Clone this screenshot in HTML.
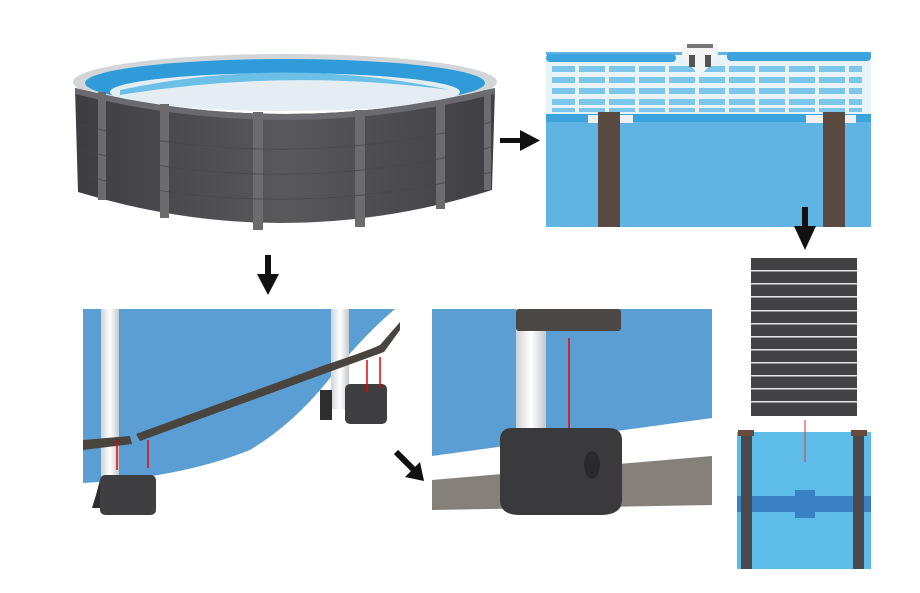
<!DOCTYPE html>
<html><head><meta charset="utf-8"><style>html,body{margin:0;padding:0;background:#fff}svg{display:block}</style></head>
<body>
<svg width="920" height="593" viewBox="0 0 920 593" xmlns="http://www.w3.org/2000/svg">
<defs>
<linearGradient id="pole" x1="0" x2="1"><stop offset="0" stop-color="#cfd3d6"/><stop offset=".5" stop-color="#ffffff"/><stop offset="1" stop-color="#c4c8cc"/></linearGradient>
<linearGradient id="bodyg" x1="0" x2="1"><stop offset="0" stop-color="#3d3d42"/><stop offset=".5" stop-color="#58585d"/><stop offset="1" stop-color="#3f3f44"/></linearGradient>
</defs>
<!-- Pool -->
<ellipse cx="285" cy="82" rx="212" ry="28" fill="#d3d6d9"/>
<ellipse cx="285" cy="83" rx="200" ry="24" fill="#2f9bd8"/>
<ellipse cx="285" cy="92" rx="175" ry="19" fill="#e4eef2"/>
<path d="M120 90 Q285 55 450 90 Q285 68 120 95 Z" fill="#6cc0e8"/>
<path d="M75 88 Q285 140 495 88 L492 190 Q285 255 78 192 Z" fill="url(#bodyg)"/>
<path d="M75 88 Q285 140 495 88 L495 94 Q285 146 75 94 Z" fill="#6a6a70"/>
<g fill="#6b6b70">
<rect x="98" y="92" width="8" height="108"/><rect x="160" y="104" width="9" height="114"/><rect x="253" y="112" width="10" height="118"/><rect x="355" y="110" width="10" height="117"/><rect x="436" y="102" width="9" height="107"/><rect x="484" y="90" width="7" height="100"/>
</g>
<g stroke="#44444a" stroke-width="1" opacity=".7" fill="none">
<path d="M80 125 Q285 175 492 122 M80 150 Q285 200 492 147 M80 175 Q285 225 492 172"/>
</g>
<!-- arrow right -->
<rect x="500" y="138" width="24" height="5" fill="#111"/><polygon points="520,130 540,140.5 520,151" fill="#111"/>
<!-- top right panel -->
<rect x="546" y="52" width="325" height="175" fill="#5fb4e4"/>
<rect x="546" y="55" width="325" height="60" fill="#e8f3f8"/>
<g fill="#7cc6ec">
<rect x="552" y="66" width="310" height="6"/><rect x="552" y="77" width="310" height="6"/><rect x="552" y="88" width="310" height="6"/><rect x="552" y="99" width="310" height="6"/><rect x="552" y="108" width="310" height="4"/>
</g>
<g fill="#e8f3f8"><rect x="575" y="60" width="4" height="55"/><rect x="605" y="60" width="4" height="55"/><rect x="635" y="60" width="4" height="55"/><rect x="665" y="60" width="4" height="55"/><rect x="695" y="60" width="4" height="55"/><rect x="725" y="60" width="4" height="55"/><rect x="755" y="60" width="4" height="55"/><rect x="785" y="60" width="4" height="55"/><rect x="815" y="60" width="4" height="55"/><rect x="845" y="60" width="4" height="55"/></g>
<rect x="546" y="54" width="130" height="8" rx="4" fill="#3da3dc"/><rect x="727" y="52" width="144" height="9" rx="4" fill="#3da3dc"/>
<path d="M682 45 L718 45 L718 56 L700 76 L682 56 Z" fill="#f4f4f4"/><rect x="687" y="44" width="26" height="4" fill="#777"/><rect x="689" y="55" width="6" height="12" fill="#555"/><rect x="705" y="55" width="6" height="12" fill="#555"/>
<rect x="546" y="114" width="325" height="8" fill="#3da3dc"/>
<rect x="588" y="115" width="45" height="8" fill="#f0f0f0"/><rect x="806" y="115" width="50" height="8" fill="#f0f0f0"/>
<rect x="598" y="112" width="22" height="115" fill="#5a4a42"/><rect x="823" y="112" width="22" height="115" fill="#5a4a42"/>
<!-- arrow down 1 -->
<rect x="265" y="255" width="6" height="22" fill="#111"/><polygon points="257,274 279,274 268,295" fill="#111"/>
<!-- arrow down 2 -->
<rect x="802" y="207" width="6" height="22" fill="#111"/><polygon points="794,226 816,226 805,250" fill="#111"/>
<!-- bottom-left panel -->
<path d="M83 309 L395 309 Q370 330 340 365 Q300 420 250 450 Q180 478 83 483 Z" fill="#5b9ed4"/>
<rect x="101" y="309" width="18" height="185" fill="url(#pole)"/>
<rect x="331" y="309" width="18" height="100" fill="url(#pole)"/>
<path d="M83 440 L130 436 L132 444 L83 450 Z" fill="#4a443f"/>
<path d="M136 434 L325 365 Q370 350 380 345 L400 322 L400 330 L384 352 Q340 368 140 441 Z" fill="#4a443f"/>
<path d="M96 495 L100 480 L100 508 L92 508 Z" fill="#2d2d30"/>
<rect x="100" y="475" width="56" height="40" rx="5" fill="#3f3f42"/>
<rect x="320" y="390" width="12" height="30" fill="#2d2d30"/>
<rect x="345" y="384" width="42" height="40" rx="5" fill="#3f3f42"/>
<g stroke="#e00" stroke-width="1.5"><line x1="117" y1="440" x2="117" y2="470"/><line x1="148" y1="440" x2="148" y2="468"/><line x1="367" y1="360" x2="367" y2="392"/><line x1="380" y1="357" x2="380" y2="388"/></g>
<!-- diagonal arrow -->
<line x1="396" y1="452" x2="414" y2="470" stroke="#111" stroke-width="6"/><polygon points="405,477 424,481 420,462" fill="#111"/>
<!-- bottom mid panel -->
<path d="M432 309 L712 309 L712 418 L432 456 Z" fill="#5b9ed4"/>
<path d="M432 480 L712 456 L712 505 L432 510 Z" fill="#85807a"/>
<rect x="516" y="309" width="30" height="130" fill="url(#pole)"/>
<rect x="516" y="309" width="105" height="22" rx="3" fill="#4a4744"/>
<path d="M500 440 Q500 428 512 428 L608 428 Q622 428 622 440 L622 500 Q622 515 600 515 L520 515 Q500 515 500 500 Z" fill="#3a3a3c"/>
<ellipse cx="592" cy="465" rx="8" ry="14" fill="#2a2a2c"/>
<line x1="569" y1="338" x2="569" y2="428" stroke="#e00" stroke-width="1.5"/>
<!-- slats -->
<rect x="751" y="258" width="106" height="158" fill="#434345"/>
<g fill="#e6e6e6"><rect x="751" y="270" width="106" height="1.5"/><rect x="751" y="283" width="106" height="1.5"/><rect x="751" y="296" width="106" height="1.5"/><rect x="751" y="310" width="106" height="1.5"/><rect x="751" y="323" width="106" height="1.5"/><rect x="751" y="336" width="106" height="1.5"/><rect x="751" y="349" width="106" height="1.5"/><rect x="751" y="362" width="106" height="1.5"/><rect x="751" y="375" width="106" height="1.5"/><rect x="751" y="388" width="106" height="1.5"/><rect x="751" y="401" width="106" height="1.5"/></g>
<!-- bottom-right panel -->
<rect x="737" y="432" width="134" height="137" fill="#5ebde8"/>
<rect x="737" y="496" width="134" height="16" fill="#3a80c4"/><rect x="795" y="490" width="20" height="28" fill="#3a80c4"/>
<rect x="741" y="432" width="11" height="137" fill="#4a4a4c"/><rect x="853" y="432" width="11" height="137" fill="#4a4a4c"/>
<rect x="738" y="430" width="16" height="6" fill="#6b4a3e"/><rect x="851" y="430" width="16" height="6" fill="#6b4a3e"/>
<line x1="805" y1="420" x2="805" y2="462" stroke="#d33" stroke-width="1"/>
</svg>
</body></html>
